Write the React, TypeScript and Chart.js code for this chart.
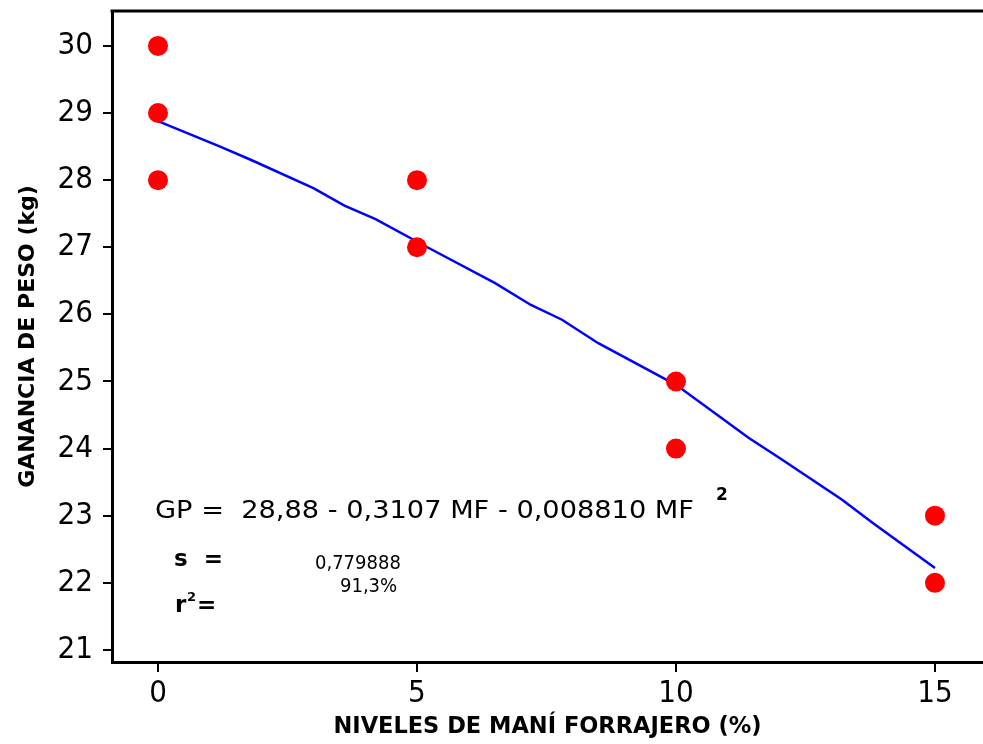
import React, { useEffect, useRef } from "react";
import { Chart, registerables } from "chart.js";

Chart.register(...registerables);

// ---- data ----
const xTickValues = [0, 5, 10, 15];
const xTickLabels = ["0", "5", "10", "15"];
const yTickValues = [21, 22, 23, 24, 25, 26, 27, 28, 29, 30];
const yTickLabels = ["21", "22", "23", "24", "25", "26", "27", "28", "29", "30"];

const obsX = [0, 0, 0, 5, 5, 10, 10, 15, 15];
const obsY = [30, 29, 28, 28, 27, 25, 24, 23, 22];

const fitX = [0, 1.2, 1.8, 3.0, 3.6, 4.2, 5.2, 6.5, 7.2, 7.8, 8.5, 10.0, 10.8, 11.4, 12.0, 13.2, 13.8, 15];
const fitY = [28.88, 28.5, 28.3, 27.88, 27.62, 27.42, 27.0, 26.47, 26.14, 25.92, 25.57, 24.95, 24.5, 24.16, 23.86, 23.24, 22.89, 22.22];

const equationText = "GP =  28,88 - 0,3107 MF - 0,008810 MF";
const equationSup = "2";
const sLabel = "s  =";
const sValue = "0,779888";
const r2Label = "r";
const r2Value = "91,3%";

const xTitle = "NIVELES DE MANÍ FORRAJERO (%)";
const yTitle = "GANANCIA DE PESO (kg)";

const annotationPlugin = {
  id: "annotations",
  afterDraw(chart: any) {
    const ctx = chart.ctx;
    const area = chart.chartArea;
    ctx.save();
    // top frame line
    ctx.strokeStyle = "#000";
    ctx.lineWidth = 3;
    ctx.beginPath();
    ctx.moveTo(area.left - 1.5, area.top);
    ctx.lineTo(area.right, area.top);
    ctx.stroke();

    ctx.fillStyle = "#000";
    ctx.textBaseline = "alphabetic";
    ctx.textAlign = "left";
    ctx.font = "25px 'DejaVu Sans'";
    const w = ctx.measureText(equationText).width;
    const sx = (694 - 155) / w;
    ctx.save();
    ctx.translate(155, 518);
    ctx.scale(sx, 1);
    ctx.fillText(equationText, 0, 0);
    ctx.restore();

    ctx.font = "bold 17px 'DejaVu Sans'";
    ctx.fillText(equationSup, 716, 500);

    ctx.font = "bold 23px 'DejaVu Sans'";
    ctx.fillText(sLabel, 174, 566);
    ctx.font = "20px 'DejaVu Sans Condensed', 'DejaVu Sans'";
    ctx.fillText(sValue, 315, 569);

    ctx.font = "bold 23px 'DejaVu Sans'";
    ctx.fillText(r2Label, 175, 612);
    ctx.font = "bold 13px 'DejaVu Sans'";
    ctx.fillText("2", 187, 601);
    ctx.font = "bold 23px 'DejaVu Sans'";
    ctx.fillText("=", 197, 612);
    ctx.font = "20px 'DejaVu Sans Condensed', 'DejaVu Sans'";
    ctx.fillText(r2Value, 340, 592);
    ctx.restore();
  },
};

export default function App() {
  const ref = useRef<HTMLCanvasElement | null>(null);

  useEffect(() => {
    if (!ref.current) return;
    const tickFont = { family: "'DejaVu Sans Condensed', 'DejaVu Sans', sans-serif", size: 31 };
    const chart = new Chart(ref.current, {
      type: "scatter",
      data: {
        datasets: [
          {
            label: "obs",
            data: obsX.map((x, i) => ({ x, y: obsY[i] })),
            backgroundColor: "#ff0000",
            borderColor: "#ff0000",
            borderWidth: 0,
            pointRadius: 10,
            showLine: false,
          },
          {
            label: "fit",
            data: fitX.map((x, i) => ({ x, y: fitY[i] })),
            showLine: true,
            borderColor: "#0000ff",
            borderWidth: 2.5,
            pointRadius: 0,
            tension: 0,
            fill: false,
          },
        ],
      },
      options: {
        responsive: false,
        animation: false,
        layout: { autoPadding: false, padding: { top: 11, left: 0, right: 0, bottom: 0 } },
        plugins: {
          legend: { display: false },
          tooltip: { enabled: false },
        },
        scales: {
          x: {
            type: "linear",
            min: -0.888,
            max: 15.927,
            afterBuildTicks: (scale: any) => {
              scale.ticks = xTickValues.map((v) => ({ value: v }));
            },
            afterFit: (scale: any) => {
              scale.height = 82;
              scale.paddingLeft = 0;
              scale.paddingRight = 0;
            },
            ticks: {
              color: "#000",
              font: tickFont,
              padding: 3,
              maxRotation: 0,
              autoSkip: false,
              callback: (v: any) => {
                const i = xTickValues.indexOf(Number(v));
                return i >= 0 ? xTickLabels[i] : "";
              },
            },
            grid: {
              display: true,
              drawOnChartArea: false,
              drawTicks: true,
              tickLength: 10,
              color: "#000",
              lineWidth: 2,
            },
            border: { display: true, color: "#000", width: 3 },
            title: {
              display: true,
              text: xTitle,
              color: "#000",
              font: { family: "'DejaVu Sans'", size: 22.5, weight: "bold" },
              padding: { top: 0, bottom: 3 },
            },
          },
          y: {
            type: "linear",
            min: 20.82,
            max: 30.52,
            afterBuildTicks: (scale: any) => {
              scale.ticks = yTickValues.map((v) => ({ value: v }));
            },
            afterFit: (scale: any) => {
              scale.width = 112;
              scale.paddingTop = 0;
              scale.paddingBottom = 0;
            },
            ticks: {
              color: "#000",
              font: tickFont,
              padding: 10,
              autoSkip: false,
              callback: (v: any) => {
                const i = yTickValues.indexOf(Number(v));
                return i >= 0 ? yTickLabels[i] : "";
              },
            },
            grid: {
              display: true,
              drawOnChartArea: false,
              drawTicks: true,
              tickLength: 9,
              color: "#000",
              lineWidth: 2,
            },
            border: { display: true, color: "#000", width: 3 },
            title: {
              display: true,
              text: yTitle,
              color: "#000",
              font: { family: "'DejaVu Sans'", size: 22, weight: "bold" },
              padding: { top: 15, bottom: 0 },
            },
          },
        },
      },
      plugins: [annotationPlugin],
    } as any);
    return () => chart.destroy();
  }, []);

  return (
    <div style={{ position: "absolute", left: 0, top: 0, width: 983, height: 744, background: "#fff" }}>
      <canvas ref={ref} width={983} height={744} style={{ display: "block" }} />
    </div>
  );
}
